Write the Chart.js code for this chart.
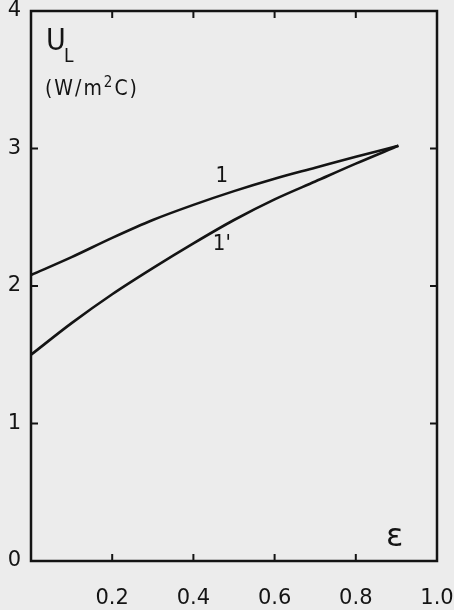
<!DOCTYPE html>
<html>
<head>
<meta charset="utf-8">
<script src="https://cdn.jsdelivr.net/npm/chart.js@4/dist/chart.umd.min.js"></script>
<style>
  html, body { margin: 0; padding: 0; background: #ececec; }
  #wrap { width: 454px; height: 610px; }
</style>
</head>
<body>
<div id="wrap"><canvas id="chart"></canvas></div>
<script>
/* --------------------------------------------------------------
   DATA
   -------------------------------------------------------------- */
const eps       = [0, 0.1, 0.2, 0.3, 0.4, 0.5, 0.6, 0.7, 0.8, 0.905];
const curve1    = [2.08, 2.21, 2.35, 2.48, 2.59, 2.69, 2.78, 2.86, 2.94, 3.02];
const curve1p   = [1.50, 1.73, 1.94, 2.13, 2.31, 2.48, 2.63, 2.76, 2.89, 3.02];
const xTicks    = [0, 0.2, 0.4, 0.6, 0.8, 1.0];
const yTicks    = [0, 1, 2, 3, 4];
const curveTags = [
  { text: '1',  x: 0.47, y: 2.80 },
  { text: "1'", x: 0.47, y: 2.30 }
];

const INK  = '#141414';
const FONT = "'DejaVu Sans', sans-serif";
const COND = "'DejaVu Sans Condensed', 'DejaVu Sans', sans-serif";

const pts = ys => eps.map((x, i) => ({ x: x, y: ys[i] }));

/* --------------------------------------------------------------
   FRAME, INWARD TICKS AND TEXT
   -------------------------------------------------------------- */
const framePlugin = {
  id: 'frame',
  afterDraw(chart) {
    const { ctx, chartArea: a, scales: { x, y } } = chart;
    const len = 7;
    ctx.save();
    ctx.strokeStyle = INK;
    ctx.lineWidth = 2.5;
    ctx.strokeRect(a.left, a.top, a.right - a.left, a.bottom - a.top);

    ctx.lineWidth = 2;
    ctx.beginPath();
    xTicks.slice(1, -1).forEach(v => {
      const px = x.getPixelForValue(v);
      ctx.moveTo(px, a.bottom); ctx.lineTo(px, a.bottom - len);
      ctx.moveTo(px, a.top);    ctx.lineTo(px, a.top + len);
    });
    yTicks.slice(1, -1).forEach(v => {
      const py = y.getPixelForValue(v);
      ctx.moveTo(a.left, py);  ctx.lineTo(a.left + len, py);
      ctx.moveTo(a.right, py); ctx.lineTo(a.right - len, py);
    });
    ctx.stroke();

    ctx.fillStyle = INK;
    ctx.textBaseline = 'alphabetic';
    ctx.textAlign = 'left';

    // axis title U_L (W/m2C)
    ctx.font = '30px ' + COND;
    ctx.fillText('U', 46, 50);
    ctx.font = '19px ' + COND;
    ctx.fillText('L', 64, 62);

    ctx.font = '21px ' + COND;
    ctx.letterSpacing = '2px';
    let cx = 45;
    ctx.fillText('(W/m', cx, 95);
    cx += ctx.measureText('(W/m').width;
    ctx.font = '15px ' + COND;
    ctx.fillText('2', cx, 87);
    cx += ctx.measureText('2').width;
    ctx.font = '21px ' + COND;
    ctx.fillText('C)', cx, 95);
    ctx.letterSpacing = '0px';

    // epsilon on the x axis
    ctx.font = '32px ' + FONT;
    ctx.fillText('ε', 386, 546);

    // curve tags
    ctx.font = '22px ' + COND;
    ctx.textAlign = 'center';
    ctx.textBaseline = 'middle';
    curveTags.forEach(t => {
      ctx.fillText(t.text, x.getPixelForValue(t.x), y.getPixelForValue(t.y));
    });
    ctx.restore();
  }
};

/* --------------------------------------------------------------
   CHART.JS
   -------------------------------------------------------------- */
const lineStyle = {
  borderColor: INK,
  borderWidth: 2.6,
  pointRadius: 0,
  fill: false,
  showLine: true,
  cubicInterpolationMode: 'monotone'
};

const noPad = s => { s.paddingLeft = 0; s.paddingRight = 0; s.paddingTop = 0; s.paddingBottom = 0; };

new Chart(document.getElementById('chart'), {
  type: 'scatter',
  data: {
    datasets: [
      Object.assign({ label: '1',  data: pts(curve1)  }, lineStyle),
      Object.assign({ label: "1'", data: pts(curve1p) }, lineStyle)
    ]
  },
  options: {
    responsive: true,
    maintainAspectRatio: false,
    animation: false,
    layout: { padding: { top: 11, right: 17, left: 0, bottom: 0 } },
    plugins: { legend: { display: false }, tooltip: { enabled: false } },
    scales: {
      x: {
        type: 'linear', min: 0, max: 1,
        border: { display: false },
        grid: { display: false, drawTicks: false },
        afterBuildTicks: s => { s.ticks = xTicks.map(v => ({ value: v })); },
        afterFit: s => { s.height = 49; noPad(s); },
        ticks: {
          padding: 25,
          color: INK,
          font: { family: FONT, size: 21 },
          maxRotation: 0,
          callback: v => (v === 0 ? '' : v.toFixed(1))
        }
      },
      y: {
        type: 'linear', min: 0, max: 4,
        border: { display: false },
        grid: { display: false, drawTicks: false },
        afterBuildTicks: s => { s.ticks = yTicks.map(v => ({ value: v })); },
        afterFit: s => { s.width = 31; noPad(s); },
        ticks: {
          padding: 10,
          color: INK,
          font: { family: FONT, size: 21 },
          callback: v => String(v)
        }
      }
    }
  },
  plugins: [framePlugin]
});
</script>
</body>
</html>
